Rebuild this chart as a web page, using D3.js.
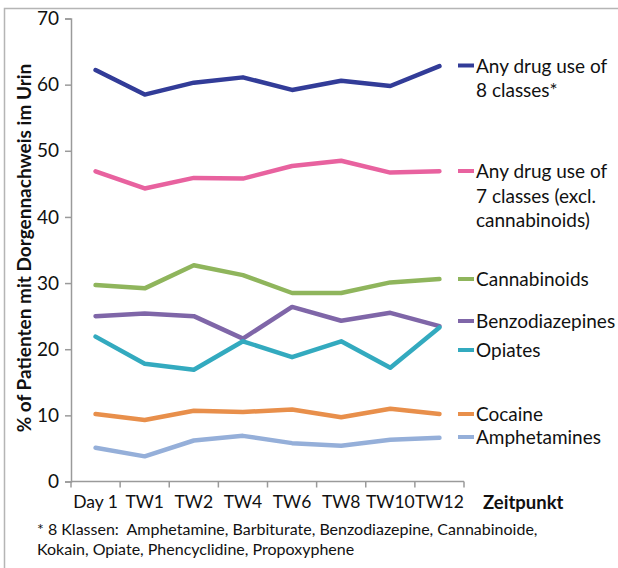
<!DOCTYPE html>
<html>
<head>
<meta charset="utf-8">
<script src="https://cdn.jsdelivr.net/npm/d3@7"></script>
<style>
  body { margin: 0; background: #fff; }
  text { font-family: Lato, "Open Sans", sans-serif; fill: #111; }
</style>
</head>
<body>
<svg id="chart"></svg>
<script>
// time points
var categories = ["Day 1", "TW1", "TW2", "TW4", "TW6", "TW8", "TW10", "TW12"];

// series values (% of patients)
var anyDrug8 = [62.2, 58.5, 60.3, 61.1, 59.2, 60.6, 59.8, 62.8];
var anyDrug7 = [46.9, 44.3, 45.9, 45.8, 47.7, 48.5, 46.7, 46.9];
var cannabinoids = [29.7, 29.2, 32.7, 31.2, 28.5, 28.5, 30.1, 30.6];
var benzodiazepines = [25.0, 25.4, 25.0, 21.6, 26.4, 24.3, 25.5, 23.5];
var opiates = [21.9, 17.8, 16.9, 21.2, 18.8, 21.2, 17.2, 23.3];
var cocaine = [10.2, 9.3, 10.7, 10.5, 10.9, 9.7, 11.0, 10.2];
var amphetamines = [5.1, 3.8, 6.2, 6.9, 5.8, 5.4, 6.3, 6.6];

var seriesNames = [
    ["Any drug use of", "8 classes*"],
    ["Any drug use of", "7 classes (excl.", "cannabinoids)"],
    ["Cannabinoids"],
    ["Benzodiazepines"],
    ["Opiates"],
    ["Cocaine"],
    ["Amphetamines"]
];
var yTicks = [0, 10, 20, 30, 40, 50, 60, 70];
var footnote = ["* 8 Klassen:  Amphetamine, Barbiturate, Benzodiazepine, Cannabinoide,",
                "Kokain, Opiate, Phencyclidine, Propoxyphene"];

var colors = ["#323C98", "#E8629F", "#8FB55C", "#7F66A8", "#33AABF", "#E88F4B", "#95AFD9"];
var allSeries = [anyDrug8, anyDrug7, cannabinoids, benzodiazepines, opiates, cocaine, amphetamines];

var svgWidth = 618, svgHeight = 568;
var svg = d3.select("#chart")
    .attr("width", svgWidth)
    .attr("height", svgHeight);

// light frame round the picture (top and left edges visible)
svg.append("path")
    .attr("d", "M4.5," + svgHeight + "V8.5H" + svgWidth)
    .attr("fill", "none")
    .attr("stroke", "#b5b5b5")
    .attr("stroke-width", 1.5);

var plotLeft = 71, plotRight = 464, plotTop = 18.5, plotBottom = 481.5;

var xScale = d3.scaleBand()
    .domain(categories)
    .range([plotLeft, plotRight]);

var yScale = d3.scaleLinear()
    .domain([0, 70])
    .range([plotBottom, plotTop]);

var axisColor = "#9a9a9a";

// y axis
var yAxis = d3.axisLeft(yScale)
    .tickValues(yTicks)
    .tickSize(6)
    .tickPadding(6);
var gy = svg.append("g")
    .attr("transform", "translate(" + plotLeft + ",0)")
    .call(yAxis);
gy.select(".domain").attr("stroke", axisColor).attr("stroke-width", 1.5);
gy.selectAll(".tick line").attr("stroke", axisColor).attr("stroke-width", 1.5);
gy.selectAll(".tick text")
    .style("font-size", "19px")
    .style("font-family", "Lato, sans-serif")
    .attr("fill", "#111");

// x axis
var xAxis = d3.axisBottom(xScale).tickSize(0).tickPadding(14);
var gx = svg.append("g")
    .attr("transform", "translate(0," + plotBottom + ")")
    .call(xAxis);
gx.select(".domain").attr("stroke", axisColor).attr("stroke-width", 1.5)
    .attr("d", "M" + plotLeft + ",0H" + plotRight);
gx.selectAll(".tick text")
    .style("font-size", "17.5px")
    .style("font-family", "Lato, sans-serif")
    .attr("fill", "#111");
// tick marks between categories
var boundaries = categories.map(function(c) { return xScale(c); }).concat([plotRight]);
gx.selectAll("line.sep")
    .data(boundaries)
    .enter()
    .append("line")
    .attr("class", "sep")
    .attr("x1", function(d) { return d; })
    .attr("x2", function(d) { return d; })
    .attr("y1", 0)
    .attr("y2", 6)
    .attr("stroke", axisColor)
    .attr("stroke-width", 1.5);

svg.append("text")
    .attr("x", 483)
    .attr("y", 509)
    .style("font-size", "18.5px")
    .style("font-weight", "bold")
    .text("Zeitpunkt");

svg.append("text")
    .attr("transform", "translate(31,248) rotate(-90)")
    .attr("text-anchor", "middle")
    .style("font-size", "19px")
    .style("font-weight", "bold")
    .text("% of Patienten mit Dorgennachweis im Urin");

// lines
var line = d3.line()
    .x(function(d, i) { return xScale(categories[i]) + xScale.bandwidth() / 2; })
    .y(function(d) { return yScale(d); });

svg.selectAll("path.series")
    .data(allSeries)
    .enter()
    .append("path")
    .attr("class", "series")
    .attr("d", line)
    .attr("fill", "none")
    .attr("stroke", function(d, i) { return colors[i]; })
    .attr("stroke-width", 4.5)
    .attr("stroke-linejoin", "round")
    .attr("stroke-linecap", "round");

// legend, placed beside each series' last value
var legendY = [65.5, 171, 279, 321, 350, 414, 437];
var lg = svg.selectAll("g.legend")
    .data(seriesNames)
    .enter()
    .append("g")
    .attr("class", "legend")
    .attr("transform", function(d, i) { return "translate(458," + legendY[i] + ")"; });
lg.append("line")
    .attr("x1", 0).attr("x2", 16)
    .attr("stroke", function(d, i) { return colors[i]; })
    .attr("stroke-width", 4);
lg.each(function(d) {
    var t = d3.select(this).append("text")
        .attr("x", 18)
        .attr("y", 7)
        .style("font-size", "19px");
    d.forEach(function(s, k) {
        t.append("tspan")
            .attr("x", 18)
            .attr("dy", k === 0 ? 0 : 24.5)
            .text(s);
    });
});

// footnote (keep the double space after the colon)
svg.selectAll("text.note")
    .data(footnote)
    .enter()
    .append("text")
    .attr("class", "note")
    .attr("x", 37)
    .attr("y", function(d, i) { return 535 + i * 20; })
    .style("font-size", "16px")
    .style("white-space", "pre")
    .text(function(d) { return d; });
</script>
</body>
</html>
